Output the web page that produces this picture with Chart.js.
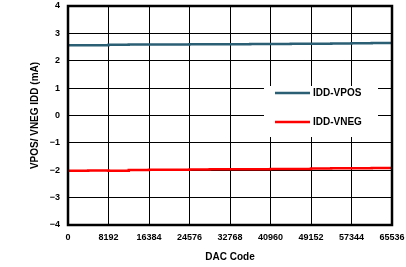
<!DOCTYPE html>
<html>
<head>
<meta charset="utf-8">
<script src="https://cdn.jsdelivr.net/npm/chart.js@4"></script>
<style>
  html, body { margin: 0; padding: 0; background: #fff; }
  #wrap { width: 406px; height: 267px; }
</style>
</head>
<body>
<div id="wrap"><canvas id="c" width="406" height="267"></canvas></div>
<script>
// DAC code sweep
const dacCodes = [0, 4096, 8192, 12288, 16384, 20480, 24576, 28672, 32768,
                  36864, 40960, 45056, 49152, 53248, 57344, 61440, 65536];
const iddVpos = [2.57, 2.57, 2.58, 2.59, 2.59, 2.59, 2.60, 2.60, 2.60,
                 2.61, 2.61, 2.62, 2.62, 2.63, 2.64, 2.65, 2.66];
const iddVneg = [-2.02, -2.01, -2.02, -1.99, -1.98, -1.98, -1.97, -1.96, -1.96,
                 -1.96, -1.95, -1.95, -1.94, -1.93, -1.93, -1.92, -1.91];
const seriesNames = ['IDD-VPOS', 'IDD-VNEG'];
const seriesColors = ['#2b5f74', '#ff0000'];

const FONT = '"Liberation Sans", Arial, sans-serif';
const pts = (ys) => ys.map((y, i) => ({ x: dacCodes[i], y }));
const minus = (v) => String(v).replace('-', '\u2212');

// legend box sitting inside the plot, covering the grid
const insideLegend = {
  id: 'insideLegend',
  beforeDatasetsDraw(chart) {
    const ctx = chart.ctx;
    const a = chart.chartArea;
    const x0 = a.right - 128, y0 = 86, w = 114, h = 51;
    ctx.save();
    ctx.fillStyle = '#fff';
    ctx.fillRect(x0, y0, w, h);
    ctx.font = 'bold 10px ' + FONT;
    ctx.textBaseline = 'middle';
    chart.data.datasets.forEach((ds, i) => {
      const y = 93 + i * 29;
      ctx.strokeStyle = ds.borderColor;
      ctx.lineWidth = 2.5;
      ctx.beginPath();
      ctx.moveTo(275, y);
      ctx.lineTo(310, y);
      ctx.stroke();
      ctx.fillStyle = '#000';
      ctx.fillText(ds.label, 313, y);
    });
    ctx.restore();
  }
};

const frame = {
  id: 'frame',
  afterDraw(chart) {
    const a = chart.chartArea;
    const ctx = chart.ctx;
    ctx.save();
    ctx.strokeStyle = '#000';
    ctx.lineWidth = 2.5;
    ctx.strokeRect(a.left, a.top, a.right - a.left, a.bottom - a.top);
    ctx.restore();
  }
};

new Chart(document.getElementById('c'), {
  type: 'line',
  data: {
    datasets: [
      { label: seriesNames[0], data: pts(iddVpos), borderColor: seriesColors[0],
        borderWidth: 2.5, pointRadius: 0, stepped: true },
      { label: seriesNames[1], data: pts(iddVneg), borderColor: seriesColors[1],
        borderWidth: 2.5, pointRadius: 0, stepped: true }
    ]
  },
  options: {
    responsive: false,
    animation: false,
    layout: { padding: { top: 6, right: 14, left: 29, bottom: 0 } },
    plugins: { legend: { display: false }, tooltip: { enabled: false } },
    scales: {
      x: {
        type: 'linear', min: 0, max: 65536,
        afterFit: (s) => { s.height = 42; s.paddingLeft = 0; s.paddingRight = 0; },
        ticks: { stepSize: 8192, color: '#000', padding: 7,
                 callback: (v) => String(v),
                 font: { family: FONT, size: 9, weight: 'bold' } },
        grid: { color: '#000', lineWidth: 1, drawTicks: false },
        border: { display: false },
        title: { display: true, text: 'DAC Code', color: '#000', padding: { top: 3 },
                 font: { family: FONT, size: 10, weight: 'bold' } }
      },
      y: {
        min: -4, max: 4,
        afterFit: (s) => { s.width = 39; s.paddingTop = 0; s.paddingBottom = 0; },
        ticks: { stepSize: 1, color: '#000', padding: 8,
                 callback: (v) => minus(v),
                 font: { family: FONT, size: 9, weight: 'bold' } },
        grid: { color: '#000', lineWidth: 1, drawTicks: false },
        border: { display: false },
        title: { display: true, text: 'VPOS/ VNEG IDD (mA)', color: '#000', padding: 0,
                 font: { family: FONT, size: 10, weight: 'bold' } }
      }
    }
  },
  plugins: [insideLegend, frame]
});
</script>
</body>
</html>
